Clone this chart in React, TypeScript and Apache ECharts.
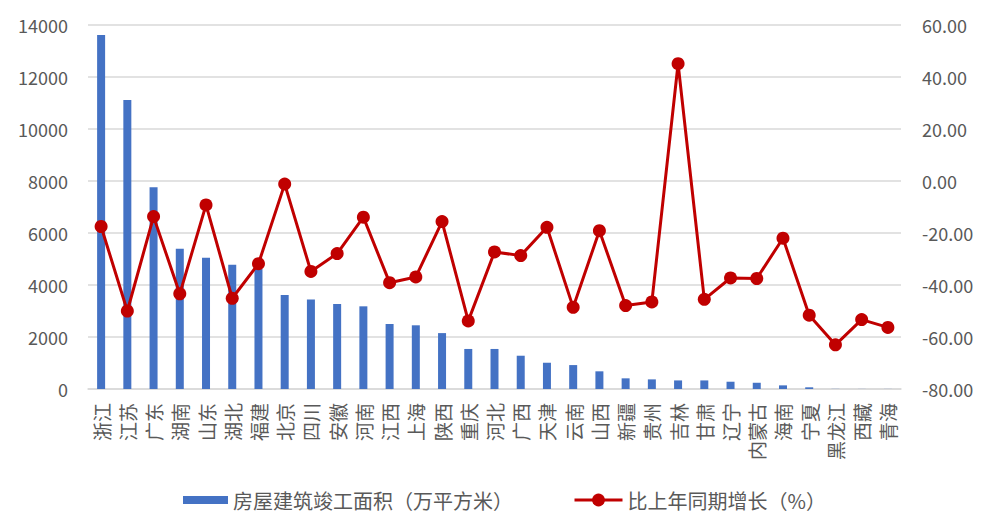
import React, { useEffect, useRef } from "react";
import * as echarts from "echarts";

const categories = [
  "浙江", "江苏", "广东", "湖南", "山东", "湖北", "福建", "北京", "四川", "安徽",
  "河南", "江西", "上海", "陕西", "重庆", "河北", "广西", "天津", "云南", "山西",
  "新疆", "贵州", "吉林", "甘肃", "辽宁", "内蒙古", "海南", "宁夏", "黑龙江", "西藏", "青海",
];

const areaValues = [
  13620, 11120, 7760, 5390, 5050, 4780, 4620, 3620, 3440, 3270,
  3180, 2500, 2450, 2150, 1540, 1540, 1280, 1010, 920, 680,
  410, 370, 330, 330, 280, 240, 140, 65, 5, 3, 3,
];

const growthValues = [
  -17.5, -50.0, -13.7, -43.4, -9.2, -45.1, -31.8, -1.2, -34.8, -27.9,
  -13.9, -39.1, -36.9, -15.6, -53.8, -27.3, -28.7, -17.8, -48.6, -19.1,
  -47.9, -46.5, 45.1, -45.5, -37.3, -37.5, -22.0, -51.6, -63.0, -53.3, -56.3,
];

const barName = "房屋建筑竣工面积（万平方米）";
const lineName = "比上年同期增长（%）";

const FONT = "'Noto Sans CJK SC', 'Noto Sans', sans-serif";
const GREY = "#595959";
const GRID_GREY = "#D9D9D9";

export default function App() {
  const ref = useRef<HTMLDivElement>(null);

  useEffect(() => {
    document.body.style.margin = "0";
    if (!ref.current) return;
    const chart = echarts.init(ref.current, undefined, { renderer: "svg" });
    chart.setOption({
      animation: false,
      backgroundColor: "#ffffff",
      textStyle: { fontFamily: FONT },
      grid: { left: 88, right: 102, top: 25, bottom: 136, containLabel: false },
      legend: [
        {
          left: 178,
          top: 485,
          itemWidth: 45,
          itemHeight: 8,
          textStyle: { fontSize: 20, color: GREY, fontFamily: FONT },
          data: [{ name: barName, icon: "rect" }],
        },
        {
          left: 568,
          top: 485,
          itemWidth: 48,
          itemHeight: 16,
          textStyle: { fontSize: 20, color: GREY, fontFamily: FONT },
          data: [{ name: lineName, lineStyle: { width: 3 } }],
        },
      ],
      xAxis: {
        type: "category",
        data: categories,
        axisLine: { lineStyle: { color: GRID_GREY, width: 1.5 } },
        axisTick: { show: false },
        axisLabel: {
          rotate: 90,
          interval: 0,
          margin: 14,
          color: GREY,
          fontSize: 19,
          fontFamily: FONT,
        },
      },
      yAxis: [
        {
          type: "value",
          min: 0,
          max: 14000,
          interval: 2000,
          axisLine: { show: false },
          axisTick: { show: false },
          axisLabel: {
            color: GREY,
            fontSize: 18,
            margin: 20,
            fontFamily: FONT,
            formatter: (v: number) => String(v),
          },
          splitLine: { lineStyle: { color: GRID_GREY, width: 1.5 } },
        },
        {
          type: "value",
          min: -80,
          max: 60,
          interval: 20,
          axisLine: { show: false },
          axisTick: { show: false },
          axisLabel: {
            color: GREY,
            fontSize: 18,
            margin: 21,
            fontFamily: FONT,
            formatter: (v: number) => v.toFixed(2),
          },
          splitLine: { show: false },
        },
      ],
      series: [
        {
          name: barName,
          type: "bar",
          data: areaValues,
          barWidth: 8,
          itemStyle: { color: "#4472C4" },
          yAxisIndex: 0,
        },
        {
          name: lineName,
          type: "line",
          data: growthValues,
          yAxisIndex: 1,
          symbol: "circle",
          symbolSize: 13,
          lineStyle: { color: "#C00000", width: 3 },
          itemStyle: { color: "#C00000" },
          z: 3,
        },
      ],
    });
    return () => chart.dispose();
  }, []);

  return <div ref={ref} style={{ width: 1003, height: 525 }} />;
}
